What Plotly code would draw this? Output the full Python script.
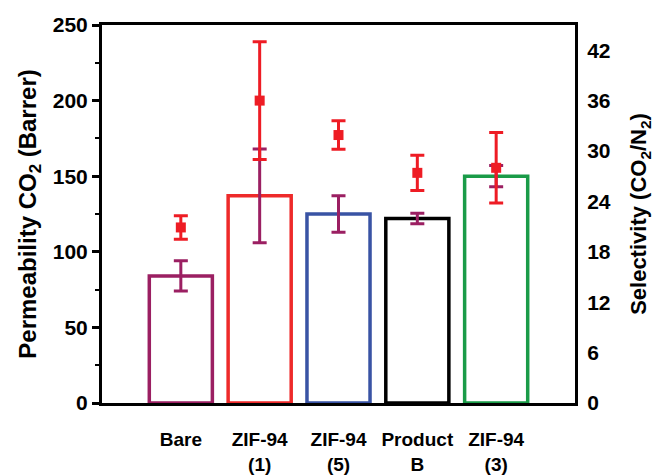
import plotly.graph_objects as go

categories = ["Bare", "ZIF-94<br>(1)", "ZIF-94<br>(5)", "Product<br>B", "ZIF-94<br>(3)"]
permeability = [84, 137, 125, 122, 150]
permeability_err = [10, 31, 12, 3.5, 7]
selectivity = [20.9, 36.0, 31.9, 27.4, 28.0]
selectivity_err = [1.4, 7.0, 1.7, 2.1, 4.2]
bar_colors = ["#9b1f62", "#ee2a2a", "#3953a4", "#000000", "#1a9b48"]
sel_ticks = [0, 6, 12, 18, 24, 30, 36, 42]
sel_minor = [3, 9, 15, 21, 27, 33, 39]

PURPLE = "#9b1f62"
RED = "#ee1c24"
FONT = "Liberation Sans"

fig = go.Figure()
fig.add_trace(go.Bar(
    x=categories, y=permeability, width=0.8,
    marker=dict(color="white", line=dict(color=bar_colors, width=3.5)),
    error_y=dict(type="data", array=permeability_err, color=PURPLE, thickness=3, width=7),
    yaxis="y", showlegend=False,
))
fig.add_trace(go.Scatter(
    x=categories, y=selectivity, mode="markers",
    marker=dict(symbol="square", size=10, color=RED),
    error_y=dict(type="data", array=selectivity_err, color=RED, thickness=3, width=7),
    yaxis="y2", showlegend=False,
))

fig.update_layout(
    width=654, height=475,
    margin=dict(l=102, r=79, t=25, b=72),
    plot_bgcolor="white", paper_bgcolor="white",
    font=dict(family=FONT, color="black"),
    xaxis=dict(
        type="category", range=[-1, 5], automargin=False,
        showline=True, linewidth=3, linecolor="black", mirror=True,
        ticks="", showgrid=False,
        tickfont=dict(size=19, weight="bold"),
        ticklabelstandoff=17,
    ),
    yaxis=dict(
        range=[0, 250], dtick=50, tick0=0, automargin=False,
        showline=True, linewidth=3, linecolor="black",
        ticks="outside", ticklen=7, tickwidth=2.5, tickcolor="black",
        minor=dict(dtick=25, ticks="outside", ticklen=4, tickwidth=2, tickcolor="black"),
        showgrid=False, zeroline=False,
        tickfont=dict(size=21, weight="bold"),
        title=dict(text="Permeability CO<sub>2</sub> (Barrer)",
                   font=dict(size=24, weight="bold"), standoff=10),
    ),
    yaxis2=dict(
        overlaying="y", side="right", range=[0, 45], automargin=False,
        tickvals=sel_ticks,
        showline=True, linewidth=3, linecolor="black",
        ticks="", showgrid=False, zeroline=False,
        tickfont=dict(size=21, weight="bold"),
        ticklabelstandoff=5,
        title=dict(text="Selectivity (CO<sub>2</sub>/N<sub>2</sub>)",
                   font=dict(size=22, weight="bold"), standoff=25),
    ),
    yaxis3=dict(
        overlaying="y", side="right", anchor="x", range=[0, 45], automargin=False,
        tickvals=sel_ticks, showticklabels=False,
        showline=False, showgrid=False, zeroline=False,
        ticks="outside", ticklen=7, tickwidth=2.5, tickcolor="black",
        minor=dict(tickvals=sel_minor, ticks="outside", ticklen=4,
                   tickwidth=2, tickcolor="black"),
    ),
    bargap=0.2,
)

fig.write_html("out.html")
